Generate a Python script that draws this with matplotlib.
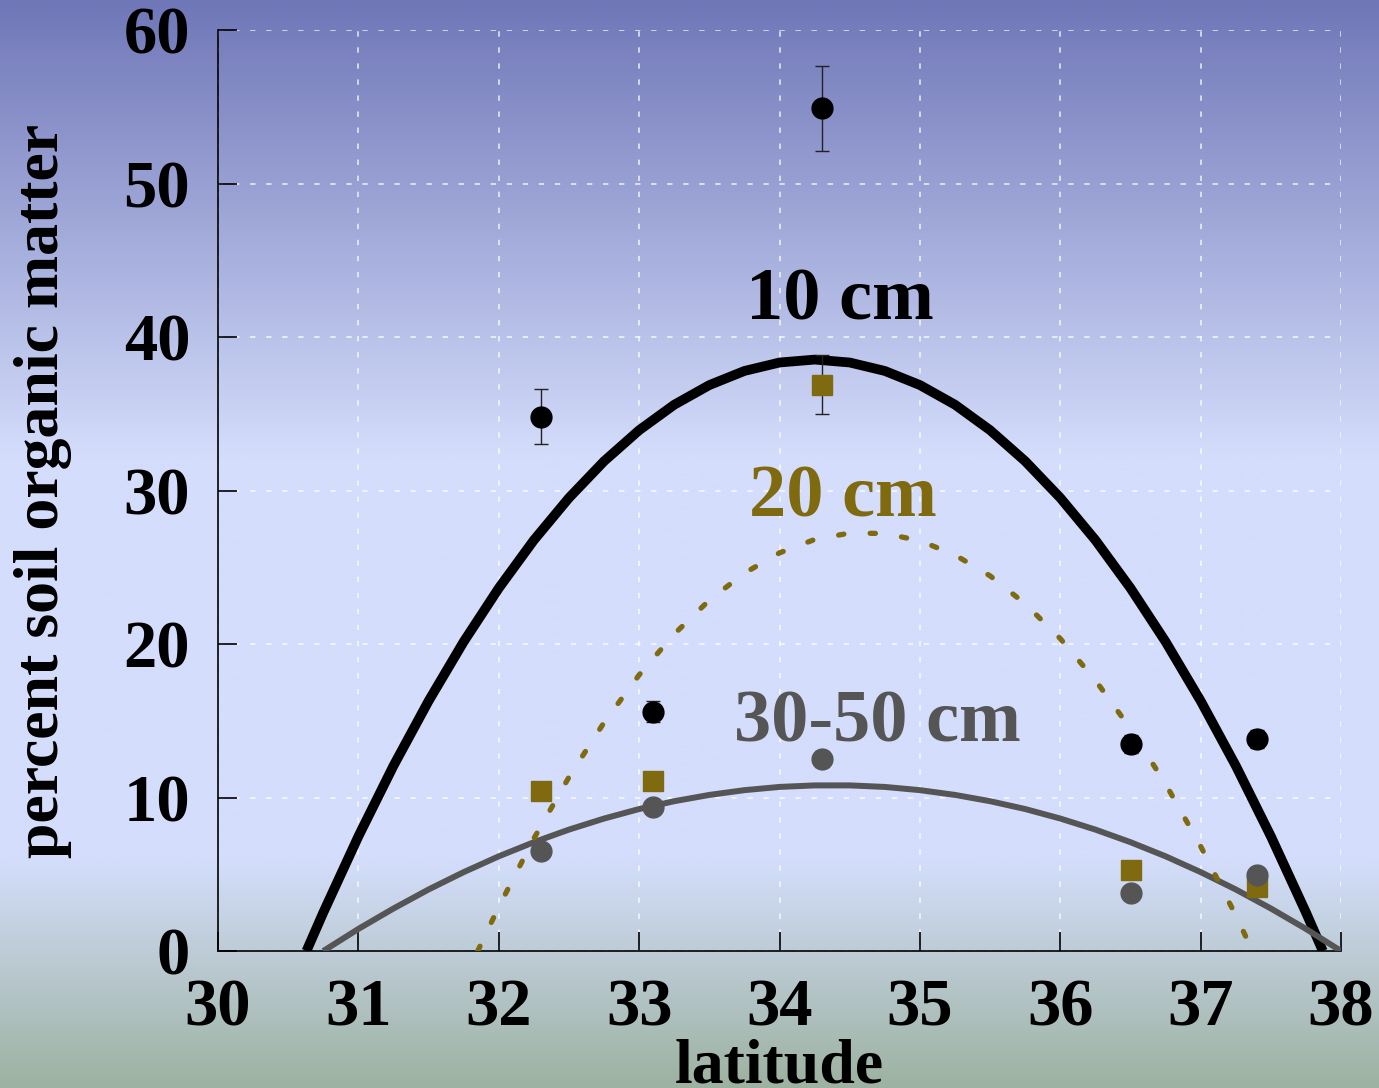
import numpy as np
import matplotlib
matplotlib.use("Agg")
import matplotlib.pyplot as plt
from matplotlib.colors import LinearSegmentedColormap

plt.rcParams['font.family'] = ['Liberation Serif', 'DejaVu Serif']
plt.rcParams['font.weight'] = 'bold'

# sampled latitudes
lat = [32.3, 33.1, 34.3, 36.5, 37.4]

# percent soil organic matter at each depth
som_10 = [34.8, 15.6, 54.9, 13.5, 13.8]
err_10 = [1.8, 0.7, 2.75, 0.6, 0.6]
som_20 = [10.4, 11.1, 36.9, 5.3, 4.2]
err_20 = [0.0, 0.0, 1.9, 0.0, 0.0]
som_3050 = [6.5, 9.4, 12.5, 3.8, 4.95]
err_3050 = [0.0, 0.0, 0.5, 0.0, 0.0]

fit10_x = [30.63, 30.75, 31.0, 31.25, 31.5, 31.75, 32.0, 32.25, 32.5, 32.75,
           33.0, 33.25, 33.5, 33.75, 34.0, 34.25, 34.5, 34.75, 35.0, 35.25,
           35.5, 35.75, 36.0, 36.25, 36.5, 36.75, 37.0, 37.25, 37.5, 37.75,
           37.87]
fit10_y = [0, 2.51, 7.47, 12.07, 16.29, 20.15, 23.64, 26.77, 29.52, 31.91,
           33.93, 35.59, 36.87, 37.79, 38.34, 38.53, 38.34, 37.79, 36.87, 35.59,
           33.93, 31.91, 29.52, 26.77, 23.64, 20.15, 16.29, 12.07, 7.47, 2.51,
           0]
fit20_x = [31.85, 32.0, 32.25, 32.5, 32.75, 33.0, 33.25, 33.5, 33.75, 34.0,
           34.25, 34.5, 34.75, 35.0, 35.25, 35.5, 35.75, 36.0, 36.25, 36.5,
           36.75, 37.0, 37.25, 37.37]
fit20_y = [0, 2.88, 7.33, 11.33, 14.89, 17.99, 20.65, 22.86, 24.62, 25.94,
           26.81, 27.23, 27.20, 26.73, 25.80, 24.44, 22.62, 20.35, 17.64, 14.48,
           10.88, 6.82, 2.32, 0]
fit3050_x = [30.75, 31.0, 31.25, 31.5, 31.75, 32.0, 32.25, 32.5, 32.75, 33.0,
             33.25, 33.5, 33.75, 34.0, 34.25, 34.5, 34.75, 35.0, 35.25, 35.5,
             35.75, 36.0, 36.25, 36.5, 36.75, 37.0, 37.25, 37.5, 37.75, 38.0]
fit3050_y = [0, 1.44, 2.77, 4.01, 5.14, 6.17, 7.09, 7.91, 8.63, 9.25,
             9.76, 10.17, 10.48, 10.69, 10.79, 10.79, 10.69, 10.48, 10.17, 9.76,
             9.25, 8.63, 7.91, 7.09, 6.17, 5.14, 4.01, 2.77, 1.44, 0]

olive = '#7f6a10'
grey = '#555555'

fig = plt.figure(figsize=(13.79, 10.88), dpi=100)

# page background: blue at the top, pale in the middle, grey-green at the bottom
bg = fig.add_axes([0, 0, 1, 1], zorder=-10)
stops = [(0.0, (112/255, 119/255, 184/255)),
         (0.42, (212/255, 221/255, 251/255)),
         (0.79, (212/255, 222/255, 252/255)),
         (1.0, (157/255, 178/255, 161/255))]
cmap = LinearSegmentedColormap.from_list('page', stops)
bg.imshow(np.linspace(0, 1, 512).reshape(-1, 1), cmap=cmap, aspect='auto',
          extent=[0, 1, 0, 1])
bg.axis('off')

ax = fig.add_axes([0.1581, 0.1259, 0.8144, 0.8465])
ax.patch.set_alpha(0)

ax.plot(fit10_x, fit10_y, color='black', lw=7, solid_capstyle='butt',
        solid_joinstyle='round', zorder=3)
ax.plot(fit3050_x, fit3050_y, color=grey, lw=4.3, solid_capstyle='butt',
        solid_joinstyle='round', zorder=3)
ax.plot(fit20_x, fit20_y, color=olive, lw=3.8, linestyle=(0, (1.0, 5.0)),
        dash_capstyle='round', zorder=3)

ax.errorbar(lat, som_10, yerr=err_10, fmt='o', color='black', ms=15,
            ecolor='#222222', elinewidth=1, capsize=5, capthick=1, zorder=5)
ax.errorbar(lat, som_20, yerr=err_20, fmt='s', color=olive, ms=15,
            ecolor='#222222', elinewidth=1, capsize=5, capthick=1, zorder=4)
ax.errorbar(lat, som_3050, yerr=err_3050, fmt='o', color=grey, ms=15,
            ecolor='#222222', elinewidth=1, capsize=5, capthick=1, zorder=4)

ax.text(34.43, 42.3, '10 cm', color='black', fontsize=53.5, ha='center', va='center')
ax.text(34.45, 29.5, '20 cm', color=olive, fontsize=53.5, ha='center', va='center')
ax.text(34.7, 14.8, '30-50 cm', color=grey, fontsize=53.5, ha='center', va='center')

ax.set_xlim(30, 38)
ax.set_ylim(0, 60)
ax.set_xticks(range(30, 39))
ax.set_yticks(range(0, 61, 10))
ax.grid(True, color='white', lw=1.1, linestyle=(0, (3.5, 7)), alpha=0.85)
ax.set_axisbelow(True)

for side in ('top', 'right'):
    ax.spines[side].set_visible(False)
ax.spines['left'].set_linewidth(1.2)
ax.spines['bottom'].set_linewidth(1.2)
ax.tick_params(direction='in', length=14, width=1.2, labelsize=48)
ax.tick_params(axis='x', pad=20)
ax.tick_params(axis='y', pad=20)

ax.set_xlabel('latitude', fontsize=46, fontweight='bold', labelpad=-1)
ax.set_ylabel('percent soil organic matter', fontsize=46, fontweight='bold',
              labelpad=37)

fig.savefig('out.png', dpi=100)
